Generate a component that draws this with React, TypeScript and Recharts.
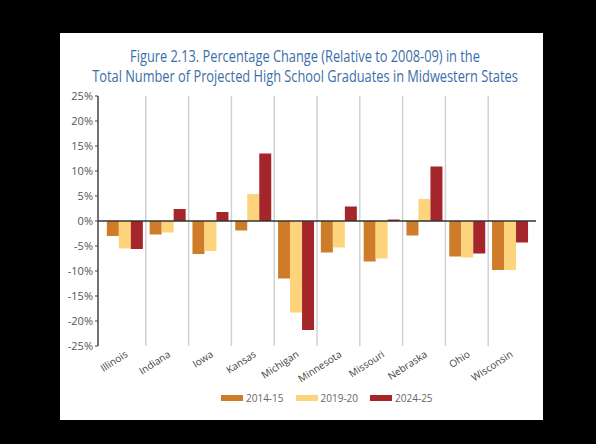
import React from 'react';
import { BarChart, Bar, XAxis, YAxis, CartesianGrid, ReferenceLine } from 'recharts';

// states along the x axis
const states = ['Illinois', 'Indiana', 'Iowa', 'Kansas', 'Michigan', 'Minnesota', 'Missouri', 'Nebraska', 'Ohio', 'Wisconsin'];

// percentage change relative to 2008-09
const change2014 = [-3.0, -2.7, -6.6, -1.9, -11.5, -6.3, -8.1, -2.9, -7.1, -9.8];
const change2019 = [-5.5, -2.3, -6.0, 5.4, -18.3, -5.3, -7.5, 4.4, -7.3, -9.8];
const change2024 = [-5.6, 2.4, 1.8, 13.5, -21.8, 2.9, 0.3, 10.9, -6.5, -4.3];

const yTicks = [-25, -20, -15, -10, -5, 0, 5, 10, 15, 20, 25];

const titleLines = [
  'Figure 2.13. Percentage Change (Relative to 2008-09) in the',
  'Total Number of Projected High School Graduates in Midwestern States',
];

const series = [
  { key: 'y2014', name: '2014-15', color: '#CF7C2A' },
  { key: 'y2019', name: '2019-20', color: '#FDD47C' },
  { key: 'y2024', name: '2024-25', color: '#A4252A' },
];

const data = states.map((s, i) => ({
  state: s,
  y2014: change2014[i],
  y2019: change2019[i],
  y2024: change2024[i],
}));

const FONT = '"Open Sans", "Noto Sans", sans-serif';
const X_PAD = 5;

const StateTick = (props: any) => {
  const { x, y, payload } = props;
  const tx = x + 4;
  const ty = y + 2;
  return (
    <text
      x={tx}
      y={ty}
      transform={`rotate(-33, ${tx}, ${ty})`}
      textAnchor="end"
      fontSize={10}
      fontFamily={FONT}
      fill="#444"
    >
      {payload.value}
    </text>
  );
};

// vertical separators sit between the state groups
const boundaryLines = ({ offset }: any) => {
  const step = (offset.width - 2 * X_PAD) / states.length;
  return states.slice(1).map((_, i) => offset.left + X_PAD + step * (i + 1));
};

const App: React.FC = () => {
  return (
    <div style={{ position: 'absolute', left: 0, top: 0, width: 596, height: 444, background: '#000' }}>
      <div style={{ position: 'absolute', left: 60, top: 33, width: 483, height: 387, background: '#fff' }}>
        {titleLines.map((t, i) => (
          <div
            key={i}
            style={{
              position: 'absolute',
              left: 245,
              top: 13 + i * 20,
              whiteSpace: 'nowrap',
              transform: 'translateX(-50%) scaleX(0.8)',
              fontFamily: FONT,
              fontSize: 16,
              lineHeight: '20px',
              color: '#3A6EA8',
            }}
          >
            {t}
          </div>
        ))}

        <div style={{ position: 'absolute', left: 0, top: 0 }}>
          <BarChart
            width={483}
            height={387}
            data={data}
            margin={{ top: 63, right: 7, left: 0, bottom: 0 }}
            barCategoryGap="9%"
            barGap={0}
          >
            <XAxis
              dataKey="state"
              height={74}
              axisLine={false}
              tickLine={false}
              interval={0}
              padding={{ left: X_PAD, right: X_PAD }}
              tick={<StateTick />}
            />
            <YAxis
              width={38}
              domain={[-25, 25]}
              ticks={yTicks}
              interval={0}
              tickFormatter={(v: number) => `${v}%`}
              axisLine={{ stroke: '#444', strokeWidth: 1.5 }}
              tickLine={{ stroke: '#444' }}
              tickSize={3}
              tick={{ fontSize: 11, fill: '#555', fontFamily: FONT }}
            />
            <CartesianGrid
              horizontal={false}
              verticalCoordinatesGenerator={boundaryLines}
              stroke="#d2d2d2"
              strokeWidth={1.5}
            />
            {series.map(s => (
              <Bar key={s.key} dataKey={s.key} name={s.name} fill={s.color} isAnimationActive={false} />
            ))}
            <ReferenceLine y={0} stroke="#333" strokeWidth={1.5} />
          </BarChart>
        </div>

        <div
          style={{
            position: 'absolute',
            left: 161,
            top: 358,
            display: 'flex',
            alignItems: 'center',
            fontFamily: FONT,
            fontSize: 10,
            color: '#666',
          }}
        >
          {series.map(s => (
            <div key={s.key} style={{ display: 'flex', alignItems: 'center', marginRight: 12 }}>
              <div style={{ width: 22, height: 6, background: s.color, marginRight: 3 }} />
              <span>{s.name}</span>
            </div>
          ))}
        </div>
      </div>
    </div>
  );
};

export default App;
